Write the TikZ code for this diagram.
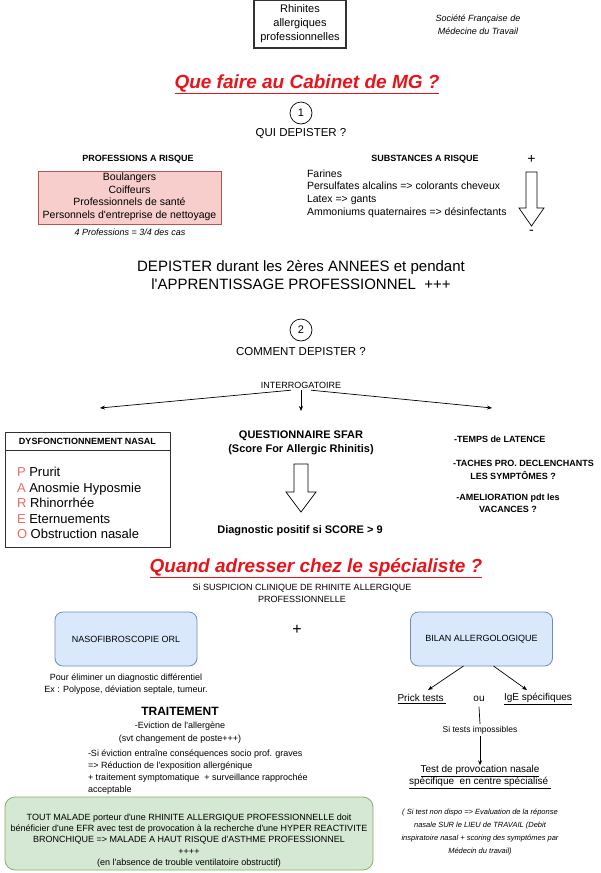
\documentclass[tikz,border=0pt]{standalone}
\usepackage{fontspec}
\setmainfont{Liberation Sans}
\usetikzlibrary{arrows.meta}
\definecolor{titlered}{HTML}{E8141B}
\definecolor{pinkfill}{HTML}{F8CECC}
\definecolor{pinkline}{HTML}{B85450}
\definecolor{bluefill}{HTML}{DAE8FC}
\definecolor{blueline}{HTML}{6C8EBF}
\definecolor{greenfill}{HTML}{D5E8D4}
\definecolor{greenline}{HTML}{82B366}
\definecolor{pareo}{HTML}{EA6B66}
\newcommand{\sz}[2]{\fontsize{#1}{#2}\selectfont}
\newcommand{\ap}{\textquotesingle}
\begin{document}
\begin{tikzpicture}[x=1pt,y=-1pt,
  every node/.style={inner sep=0pt,outer sep=0pt},
  conn/.style={line width=0.7pt,-{Stealth[length=5pt,width=4pt]}},
  bigtitle/.style={font=\sz{19}{22}\bfseries\itshape,text=titlered},
  numcircle/.style={circle,draw,line width=0.7pt,minimum size=22pt,font=\sz{11}{13}},
  bluebox/.style={draw=blueline,fill=bluefill,rounded corners=8pt,line width=0.8pt,minimum width=142pt,minimum height=54pt,font=\sz{9}{11}},
  hollow/.style={draw,line width=0.7pt,fill=white}]
\useasboundingbox (0,0) rectangle (600,873);

% header
\node[draw=black!80,line width=1.2pt,minimum width=92pt,minimum height=48pt,align=center,font=\sz{11}{14}] (topbox) at (300,24) {Rhinites\\allergiques\\professionnelles};
\node[align=center,font=\sz{9}{13}\itshape] (sfmt) at (478,25) {Société Française de\\Médecine du Travail};

\node[bigtitle] (t1) at (307,84) {\underline{Que faire au Cabinet de MG ?}};
\node[numcircle] (c1) at (301,113) {1};
\node[font=\sz{11.5}{13}] (qui) at (301,134) {QUI DEPISTER ?};

% professions
\node[font=\sz{9}{11}\bfseries] (profh) at (138,159) {PROFESSIONS A RISQUE};
\node[draw=pinkline,fill=pinkfill,line width=0.8pt,minimum width=183pt,minimum height=53pt] (profbox) at (129.5,197.5) {};
\node[align=center,font=\sz{10.5}{12.5}] (proftxt) at (129.5,197) {Boulangers\\Coiffeurs\\Professionnels de santé\\Personnels d\ap entreprise de nettoyage};
\node[font=\sz{9}{11}\itshape] (prof4) at (130,232) {4 Professions = 3/4 des cas};

% substances
\node[font=\sz{9}{11}\bfseries] (substh) at (425,159) {SUBSTANCES A RISQUE};
\node[font=\sz{14}{16}] (plus1) at (531.5,159) {+};
\node[anchor=west,align=left,font=\sz{10.5}{12.7}] (substtxt) at (307,193.5) {Farines\\Persulfates alcalins => colorants cheveux\\Latex => gants\\Ammoniums quaternaires => désinfectants};
\draw[hollow] (526,172) -- (537,172) -- (537,208) -- (544,208) -- (531.5,226) -- (519,208) -- (526,208) -- cycle;
\node[font=\sz{14}{16}] (minus1) at (531.5,232) {-};

\node[align=center,font=\sz{15}{17.5}] (dep) at (301,275) {DEPISTER durant les 2ères ANNEES et pendant\\l\ap APPRENTISSAGE PROFESSIONNEL\ \ +++};

% comment depister
\node[numcircle] (c2) at (301,330) {2};
\node[font=\sz{11.5}{13}] (comment) at (301,352) {COMMENT DEPISTER ?};
\node[font=\sz{9}{11}] (interro) at (301,385) {INTERROGATOIRE};
\coordinate (aL) at (100,408);
\coordinate (aC) at (301,411);
\coordinate (aR) at (492,408);
\draw[conn] ([xshift=-10pt,yshift=-2pt]interro.south) -- (aL);
\draw[conn] ([yshift=-2pt]interro.south) -- (aC);
\draw[conn] ([xshift=10pt,yshift=-2pt]interro.south) -- (aR);

% dysfonctionnement
\node[draw=black!80,line width=0.8pt,minimum width=165pt,minimum height=115pt] (dysbox) at (87.5,489.5) {};
\draw[black!80,line width=0.8pt] (dysbox.west |- 0,450) -- (dysbox.east |- 0,450);
\node[font=\sz{9}{11}\bfseries] (dysh) at (87.5,441) {DYSFONCTIONNEMENT NASAL};
\node[anchor=west,align=left,font=\sz{13}{15.5}] (pareotxt) at (17,503) {{\color{pareo}P} Prurit\\{\color{pareo}A} Anosmie Hyposmie\\{\color{pareo}R} Rhinorrhée\\{\color{pareo}E} Eternuements\\{\color{pareo}O} Obstruction nasale};

% questionnaire
\node[align=center,font=\sz{11}{14}\bfseries] (sfar) at (301,443) {QUESTIONNAIRE SFAR\\(Score For Allergic Rhinitis)};
\draw[hollow] (294,464) -- (308,464) -- (308,492) -- (316,492) -- (301,512) -- (286,492) -- (294,492) -- cycle;
\node[font=\sz{11}{13}\bfseries] (diag) at (300,531) {Diagnostic positif si SCORE > 9};

% right column
\node[anchor=west,font=\sz{9}{11}\bfseries] (temps) at (454,439) {-TEMPS de LATENCE};
\node[anchor=west,font=\sz{9}{11}\bfseries] (taches) at (453,463) {-TACHES PRO. DECLENCHANTS};
\node[font=\sz{9}{11}\bfseries] (sympt) at (513,476) {LES SYMPTÔMES ?};
\node[align=center,font=\sz{9}{12}\bfseries] (amel) at (508,503) {-AMELIORATION pdt les\\VACANCES ?};

% specialist
\node[bigtitle] (t2) at (316,568) {\underline{Quand adresser chez le spécialiste ?}};
\node[align=center,font=\sz{9}{11.5}] (susp) at (302,593.5) {Si SUSPICION CLINIQUE DE RHINITE ALLERGIQUE\\PROFESSIONNELLE};
\node[bluebox] (naso) at (126,639) {NASOFIBROSCOPIE ORL};
\node[font=\sz{16}{18}] (plus2) at (297,630) {+};
\node[bluebox] (bilan) at (481.5,639) {BILAN ALLERGOLOGIQUE};
\node[align=center,font=\sz{9}{12}] (pour) at (126,684) {Pour éliminer un diagnostic différentiel\\Ex : Polypose, déviation septale, tumeur.};

\node[font=\sz{10}{12}] (prick) at (422,699) {\underline{Prick tests\ }};
\node[font=\sz{10}{12}] (ou) at (479,699) {ou};
\node[font=\sz{10}{12}] (ige) at (538,699) {\underline{IgE spécifiques}};
\coordinate (pk) at (428,690);
\coordinate (ig) at (527,690);
\draw[conn] ([xshift=-18pt]bilan.south) -- (pk);
\draw[conn] ([xshift=12pt]bilan.south) -- (ig);

\node[align=center,font=\sz{10}{12}] (tpn) at (480,777) {\underline{Test de provocation nasale}\\\underline{spécifique\ \ en centre spécialisé\ }};
\node[fill=white,inner sep=2pt,font=\sz{8.5}{10}] (sitests) at (480,730) {Si tests impossibles};
\draw[line width=0.7pt] ([yshift=-5pt]ou.south) -- (sitests.north);
\draw[conn] (sitests.south) -- (tpn.north);
\node[align=center,font=\sz{7.5}{13}\itshape] (note) at (480,832.5) {( Si test non dispo => Evaluation de la réponse\\nasale SUR le LIEU de TRAVAIL (Debit\\inspiratoire nasal + scoring des symptômes par\\Médecin du travail)};

% traitement
\node[font=\sz{12}{14}\bfseries] (trt) at (180,711) {TRAITEMENT};
\node[align=center,font=\sz{9}{12.5}] (evic) at (180,732.5) {-Eviction de l\ap allergène\\(svt changement de poste+++)};
\node[anchor=west,align=left,font=\sz{9}{12}] (sievic) at (88,772) {-Si éviction entraîne conséquences socio prof. graves\\=> Réduction de l\ap exposition allergénique\\+ traitement symptomatique\ \ + surveillance rapprochée\\acceptable};

\node[draw=greenline,fill=greenfill,rounded corners=10pt,line width=0.8pt,minimum width=368pt,minimum height=73pt] (greenbox) at (189,833.5) {};
\node[align=center,font=\sz{9}{11.2}] (greentxt) at (189,840.5) {TOUT MALADE porteur d\ap une RHINITE ALLERGIQUE PROFESSIONNELLE doit\\bénéficier d\ap une EFR avec test de provocation à la recherche d\ap une HYPER REACTIVITE\\BRONCHIQUE => MALADE A HAUT RISQUE d\ap ASTHME PROFESSIONNEL\\++++\\(en l\ap absence de trouble ventilatoire obstructif)};
\end{tikzpicture}
\end{document}
